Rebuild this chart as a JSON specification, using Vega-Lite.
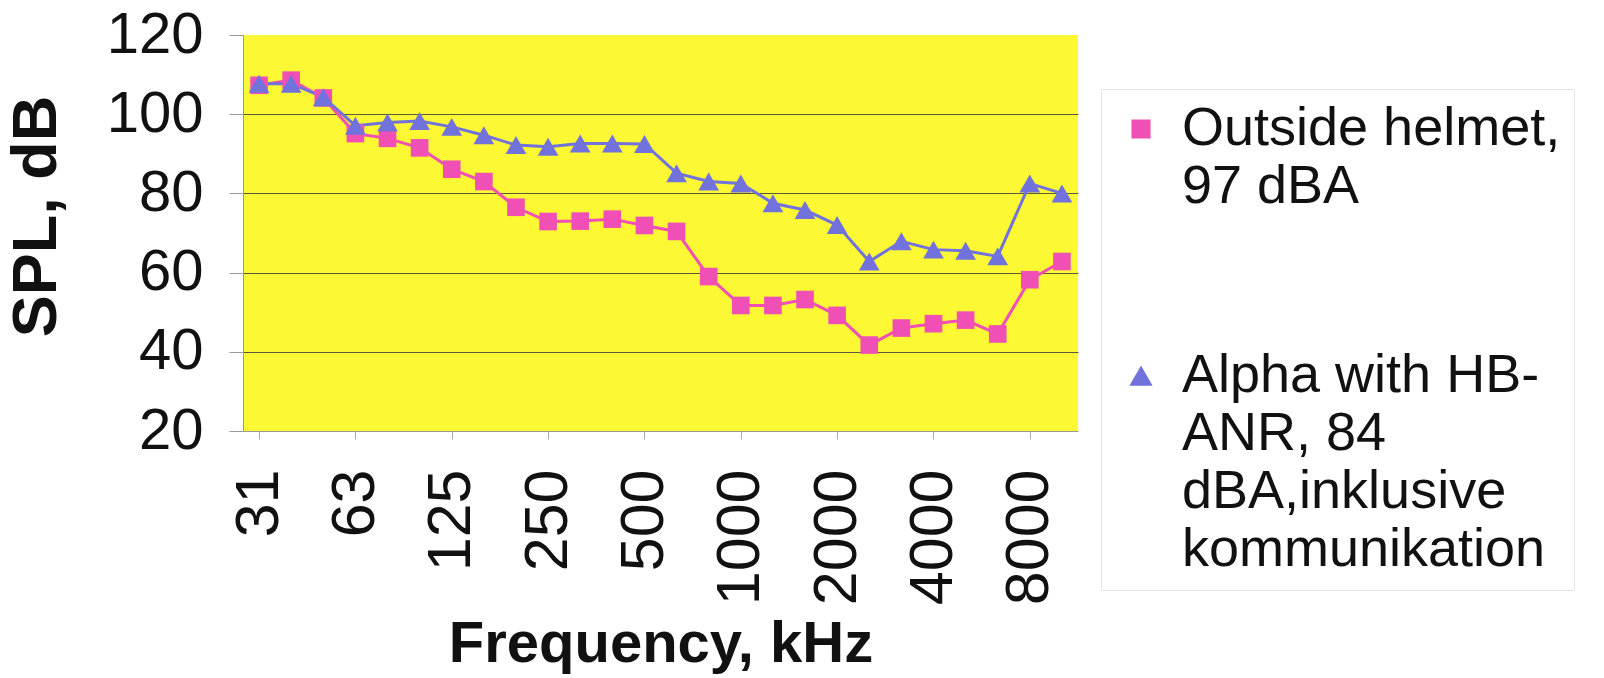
{
  "$schema": "https://vega.github.io/schema/vega-lite/v6.json",
  "width": 835,
  "height": 396,
  "padding": {"left": 5, "top": 6, "right": 0, "bottom": 0},
  "background": "white",
  "config": {
    "view": {"fill": "#fcf833", "stroke": null},
    "font": "Liberation Sans"
  },
  "data": {
    "values": [
      {"freq": "31", "series": "Outside helmet, 97 dBA", "spl": 107.3},
      {"freq": "40", "series": "Outside helmet, 97 dBA", "spl": 108.6},
      {"freq": "50", "series": "Outside helmet, 97 dBA", "spl": 104.1},
      {"freq": "63", "series": "Outside helmet, 97 dBA", "spl": 95.1},
      {"freq": "80", "series": "Outside helmet, 97 dBA", "spl": 93.9},
      {"freq": "100", "series": "Outside helmet, 97 dBA", "spl": 91.5},
      {"freq": "125", "series": "Outside helmet, 97 dBA", "spl": 86.1},
      {"freq": "160", "series": "Outside helmet, 97 dBA", "spl": 83.0},
      {"freq": "200", "series": "Outside helmet, 97 dBA", "spl": 76.5},
      {"freq": "250", "series": "Outside helmet, 97 dBA", "spl": 72.9},
      {"freq": "315", "series": "Outside helmet, 97 dBA", "spl": 73.0},
      {"freq": "400", "series": "Outside helmet, 97 dBA", "spl": 73.5},
      {"freq": "500", "series": "Outside helmet, 97 dBA", "spl": 71.9},
      {"freq": "630", "series": "Outside helmet, 97 dBA", "spl": 70.4},
      {"freq": "800", "series": "Outside helmet, 97 dBA", "spl": 59.0},
      {"freq": "1000", "series": "Outside helmet, 97 dBA", "spl": 51.7},
      {"freq": "1250", "series": "Outside helmet, 97 dBA", "spl": 51.7},
      {"freq": "1600", "series": "Outside helmet, 97 dBA", "spl": 53.2},
      {"freq": "2000", "series": "Outside helmet, 97 dBA", "spl": 49.2},
      {"freq": "2500", "series": "Outside helmet, 97 dBA", "spl": 41.7},
      {"freq": "3150", "series": "Outside helmet, 97 dBA", "spl": 46.0},
      {"freq": "4000", "series": "Outside helmet, 97 dBA", "spl": 47.1},
      {"freq": "5000", "series": "Outside helmet, 97 dBA", "spl": 48.0},
      {"freq": "6300", "series": "Outside helmet, 97 dBA", "spl": 44.5},
      {"freq": "8000", "series": "Outside helmet, 97 dBA", "spl": 58.2},
      {"freq": "10000", "series": "Outside helmet, 97 dBA", "spl": 62.8},
      {"freq": "31", "series": "Alpha with HB-ANR, 84 dBA,inklusive kommunikation", "spl": 107.7},
      {"freq": "40", "series": "Alpha with HB-ANR, 84 dBA,inklusive kommunikation", "spl": 107.7},
      {"freq": "50", "series": "Alpha with HB-ANR, 84 dBA,inklusive kommunikation", "spl": 104.3},
      {"freq": "63", "series": "Alpha with HB-ANR, 84 dBA,inklusive kommunikation", "spl": 97.1},
      {"freq": "80", "series": "Alpha with HB-ANR, 84 dBA,inklusive kommunikation", "spl": 97.9},
      {"freq": "100", "series": "Alpha with HB-ANR, 84 dBA,inklusive kommunikation", "spl": 98.3},
      {"freq": "125", "series": "Alpha with HB-ANR, 84 dBA,inklusive kommunikation", "spl": 96.8},
      {"freq": "160", "series": "Alpha with HB-ANR, 84 dBA,inklusive kommunikation", "spl": 94.7},
      {"freq": "200", "series": "Alpha with HB-ANR, 84 dBA,inklusive kommunikation", "spl": 92.2},
      {"freq": "250", "series": "Alpha with HB-ANR, 84 dBA,inklusive kommunikation", "spl": 91.8},
      {"freq": "315", "series": "Alpha with HB-ANR, 84 dBA,inklusive kommunikation", "spl": 92.6},
      {"freq": "400", "series": "Alpha with HB-ANR, 84 dBA,inklusive kommunikation", "spl": 92.6},
      {"freq": "500", "series": "Alpha with HB-ANR, 84 dBA,inklusive kommunikation", "spl": 92.5},
      {"freq": "630", "series": "Alpha with HB-ANR, 84 dBA,inklusive kommunikation", "spl": 85.1},
      {"freq": "800", "series": "Alpha with HB-ANR, 84 dBA,inklusive kommunikation", "spl": 83.0},
      {"freq": "1000", "series": "Alpha with HB-ANR, 84 dBA,inklusive kommunikation", "spl": 82.5},
      {"freq": "1250", "series": "Alpha with HB-ANR, 84 dBA,inklusive kommunikation", "spl": 77.5},
      {"freq": "1600", "series": "Alpha with HB-ANR, 84 dBA,inklusive kommunikation", "spl": 75.8},
      {"freq": "2000", "series": "Alpha with HB-ANR, 84 dBA,inklusive kommunikation", "spl": 72.0},
      {"freq": "2500", "series": "Alpha with HB-ANR, 84 dBA,inklusive kommunikation", "spl": 62.8},
      {"freq": "3150", "series": "Alpha with HB-ANR, 84 dBA,inklusive kommunikation", "spl": 67.9},
      {"freq": "4000", "series": "Alpha with HB-ANR, 84 dBA,inklusive kommunikation", "spl": 65.8},
      {"freq": "5000", "series": "Alpha with HB-ANR, 84 dBA,inklusive kommunikation", "spl": 65.5},
      {"freq": "6300", "series": "Alpha with HB-ANR, 84 dBA,inklusive kommunikation", "spl": 64.1},
      {"freq": "8000", "series": "Alpha with HB-ANR, 84 dBA,inklusive kommunikation", "spl": 82.5},
      {"freq": "10000", "series": "Alpha with HB-ANR, 84 dBA,inklusive kommunikation", "spl": 80.0}
    ]
  },
  "encoding": {
    "x": {
      "field": "freq",
      "type": "ordinal",
      "sort": null,
      "scale": {"type": "point", "padding": 0.5},
      "axis": {
        "title": "Frequency, kHz",
        "values": ["31", "63", "125", "250", "500", "1000", "2000", "4000", "8000"],
        "labelAngle": -90,
        "labelAlign": "right",
        "labelBaseline": "middle",
        "labelFontSize": 61,
        "labelColor": "#111111",
        "labelPadding": 30,
        "labelFont": "Liberation Sans",
        "ticks": true,
        "tickSize": 8,
        "tickColor": "#aaaaaa",
        "domainColor": "#999999",
        "grid": false,
        "titleFontSize": 58,
        "titleFontWeight": "bold",
        "titleFont": "Liberation Sans",
        "titleColor": "#111111",
        "titlePadding": 11
      }
    },
    "y": {
      "field": "spl",
      "type": "quantitative",
      "scale": {"domain": [20, 120], "nice": false, "zero": false},
      "axis": {
        "title": "SPL, dB",
        "values": [20, 40, 60, 80, 100, 120],
        "labelFontSize": 58,
        "labelColor": "#111111",
        "labelPadding": 26,
        "labelFont": "Liberation Sans",
        "tickSize": 14,
        "tickColor": "#999999",
        "domainColor": "#999999",
        "grid": true,
        "gridColor": "#5a5a3a",
        "gridWidth": 1,
        "gridOpacity": {"condition": {"test": "datum.value == 20 || datum.value == 120", "value": 0}, "value": 1},
        "titleFontSize": 63,
        "titleFontWeight": "bold",
        "titleFont": "Liberation Sans",
        "titleColor": "#111111",
        "titlePadding": 38,
        "titleY": 181
      }
    },
    "color": {
      "field": "series",
      "type": "nominal",
      "scale": {
        "domain": ["Outside helmet, 97 dBA", "Alpha with HB-ANR, 84 dBA,inklusive kommunikation"],
        "range": ["#f04fb6", "#7272dc"]
      },
      "legend": {
        "title": null,
        "orient": "none",
        "legendX": 858,
        "legendY": 54,
        "padding": 13,
        "strokeColor": "#e6e6e6",
        "labelFontSize": 54,
        "labelFont": "Liberation Sans",
        "labelColor": "#111111",
        "labelLimit": 1000,
        "labelOffset": 14,
        "labelBaseline": "middle",
        "rowPadding": 135,
        "labelExpr": "datum.value == 'Outside helmet, 97 dBA' ? ['Outside helmet,', '97 dBA'] : ['Alpha with HB-', 'ANR, 84', 'dBA,inklusive', 'kommunikation']",
        "encode": {
          "labels": {"update": {"lineHeight": {"value": 58}}}
        }
      }
    }
  },
  "layer": [
    {
      "mark": {"type": "line", "strokeWidth": 3}
    },
    {
      "mark": {"type": "point", "filled": true, "opacity": 1, "strokeWidth": 0},
      "encoding": {
        "shape": {
          "field": "series",
          "type": "nominal",
          "scale": {
            "domain": ["Outside helmet, 97 dBA", "Alpha with HB-ANR, 84 dBA,inklusive kommunikation"],
            "range": ["square", "triangle-up"]
          },
          "legend": null
        },
        "size": {
          "field": "series",
          "type": "nominal",
          "scale": {
            "domain": ["Outside helmet, 97 dBA", "Alpha with HB-ANR, 84 dBA,inklusive kommunikation"],
            "range": [310, 430]
          },
          "legend": null
        }
      }
    }
  ]
}
